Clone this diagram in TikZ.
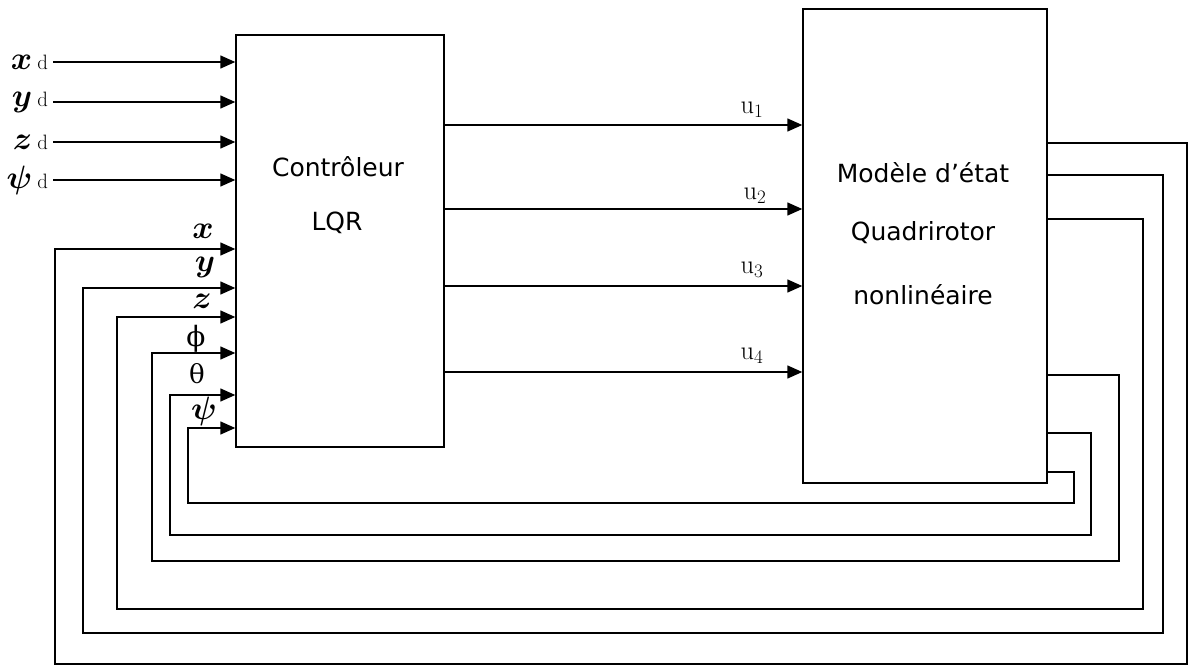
\documentclass[tikz,border=0pt]{standalone}
\usepackage{fontspec}
\setsansfont{DejaVu Sans}
\newfontfamily\grk{DejaVu Serif}
\usetikzlibrary{arrows.meta}
\begin{document}
\begin{tikzpicture}[x=1pt,y=-1pt,
  line width=1.4pt,
  arr/.style={-{Triangle[length=15pt,width=13pt]}},
  blk/.style={draw,rectangle,inner sep=0pt},
  lbl/.style={inner sep=0pt,scale=1.3,font=\boldmath\fontsize{24}{26}\selectfont},
  ulbl/.style={inner sep=0pt,scale=1.1,font=\fontsize{24}{26}\selectfont},
  txt/.style={inner sep=0pt,font=\sffamily\fontsize{25}{30}\selectfont}]
\useasboundingbox (0,0) rectangle (1195,666);
% blocks
\node[blk,minimum width=208pt,minimum height=412pt] (ctrl) at (340,241) {};
\node[blk,minimum width=244pt,minimum height=474pt] (plant) at (925,246) {};
\node[txt] (t1) at (338,167) {Contrôleur};
\node[txt] (t2) at (337,223) {LQR};
\node[txt] (t3) at (923,173) {Modèle d’état};
\node[txt] (t4) at (923,233) {Quadrirotor};
\node[txt] (t5) at (923,295) {nonlinéaire};
% reference inputs
\node[lbl,anchor=east] (xd) at (49,62) {$x$\,{\unboldmath\fontsize{16}{18}\selectfont d}};
\node[lbl,anchor=east] (yd) at (49,102) {$y$\,{\unboldmath\fontsize{16}{18}\selectfont d}};
\node[lbl,anchor=east] (zd) at (49,142) {$z$\,{\unboldmath\fontsize{16}{18}\selectfont d}};
\node[lbl,anchor=east] (pd) at (49,180) {$\psi$\,{\unboldmath\fontsize{16}{18}\selectfont d}};
\foreach \n in {xd,yd,zd,pd}
  \draw[arr] ([xshift=4pt]\n.east) -- (ctrl.west |- \n.east);
% feedback labels
\node[lbl] (lx) at (203,231) {$x$};
\node[lbl] (ly) at (205,267) {$y$};
\node[lbl] (lz) at (202,301) {$z$};
\node[inner sep=0pt,font=\grk\fontsize{28}{30}\selectfont] (lphi) at (196,339) {ϕ};
\node[inner sep=0pt,font=\grk\fontsize{26}{30}\selectfont] (lth) at (197,374) {θ};
\node[lbl] (lpsi) at (204,411) {$\psi$};
% feedback loops
\foreach \yo/\xr/\yb/\xl/\yi in {143/1187/664/55/249, 175/1163/633/83/288, 219/1143/609/117/317, 375/1119/561/152/353, 433/1091/535/170/395, 472/1074/503/188/428}
  \draw[arr] (plant.east |- 0,\yo) -| (\xr,\yb) -| (\xl,\yi) -- (ctrl.west |- 0,\yi);
% control signals
\foreach \yy in {125,209,286,372}
  \draw[arr] (ctrl.east |- 0,\yy) -- (plant.west |- 0,\yy);
\node[ulbl] (u1) at (752,110) {$\mathrm{u}_1$};
\node[ulbl] (u2) at (755,196) {$\mathrm{u}_2$};
\node[ulbl] (u3) at (752,270) {$\mathrm{u}_3$};
\node[ulbl] (u4) at (752,356) {$\mathrm{u}_4$};
\end{tikzpicture}
\end{document}
